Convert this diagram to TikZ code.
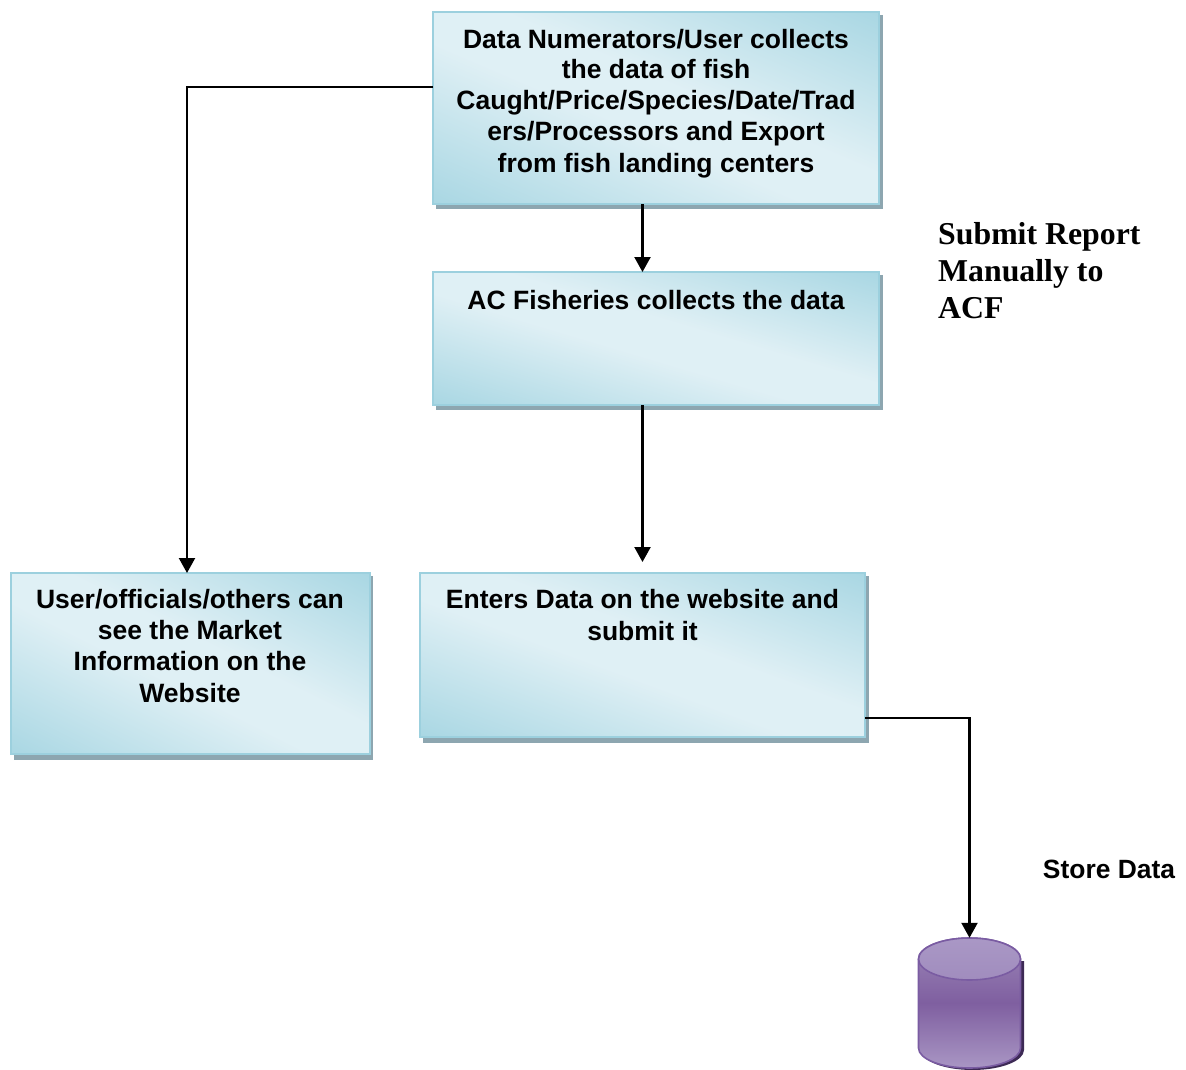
\documentclass[tikz,border=0pt]{standalone}
\usepackage{fontspec}
\setmainfont{Liberation Sans}
\newfontfamily\serifbold{Liberation Serif}
\usetikzlibrary{arrows.meta,calc}
\definecolor{boxedge}{HTML}{9CD0DE}
\definecolor{boxshadow}{HTML}{8DA6B0}
\definecolor{dbedge}{HTML}{7A5CA2}
\definecolor{dbshadow}{HTML}{3D2A55}
\definecolor{dbb}{HTML}{A996C4}
\definecolor{dbm}{HTML}{7F5FA0}
\definecolor{dbt}{HTML}{9C86B8}
\definecolor{dbl}{HTML}{9C87BA}
\definecolor{dbh}{HTML}{AE9DC9}
\pgfdeclarefunctionalshading{boxfill}{\pgfpoint{-50bp}{-50bp}}{\pgfpoint{50bp}{50bp}}{}{
  add abs 100 div
  dup 0.08 lt {pop 0} {0.08 sub 0.6 div dup 1 gt {pop 1} if} ifelse
  dup 1 exch sub
  dup 0.875 mul 2 index 0.57 mul add exch
  dup 0.94 mul 3 index 0.80 mul add exch
  0.96 mul 3 index 0.86 mul add
  4 -1 roll pop
}
\pgfdeclareverticalshading{dbbody}{100bp}{
  color(0bp)=(dbb);
  color(25bp)=(dbb);
  color(50bp)=(dbm);
  color(75bp)=(dbt);
  color(100bp)=(dbt)}
\pgfdeclareverticalshading{dbtop}{100bp}{
  color(0bp)=(dbl);
  color(100bp)=(dbh)}
\tikzset{
  flowbox/.style={shading=boxfill,draw=boxedge,line width=2pt,inner sep=0pt,outer sep=0pt,
    font=\fontsize{26.5}{30.7}\selectfont\bfseries},
  boxback/.style={fill=boxshadow,draw=none},
  conn/.style={draw=black,line width=2.2pt},
  arr/.style={conn,-{Triangle[length=15pt,width=16pt]}}
}
\newcommand{\boxtext}[4]{\parbox[c][#2pt][t]{#1pt}{\centering\vspace*{#3pt}#4\par}}
\begin{document}
\begin{tikzpicture}[x=1pt,y=-1pt]
\useasboundingbox (0,0) rectangle (1186,1070);
% shadows
\fill[boxback] (436,15) rectangle (883,209);
\fill[boxback] (436,275) rectangle (883,410);
\fill[boxback] (14,576) rectangle (373,760);
\fill[boxback] (423,576) rectangle (869,743);
% boxes
\node[flowbox,shade,draw,anchor=center] (b1) at (656,108)
  {\boxtext{446}{192}{17}{Data Numerators/User collects\\the data of fish\\Caught/Price/Species/Date/Trad\\ers/Processors and Export\\[1.5pt]from fish landing centers}};
\node[flowbox,shade,draw,anchor=center] (b2) at (656,338.5)
  {\boxtext{446}{133}{18}{AC Fisheries collects the data}};
\node[flowbox,shade,draw,anchor=center] (b3) at (190,663.5)
  {\fontsize{26.5}{31.3}\selectfont\boxtext{359}{181}{16}{User/officials/others can\\see the Market\\Information on the\\Website}};
\node[flowbox,shade,draw,anchor=center] (b4) at (642.5,655)
  {\fontsize{26.5}{32}\selectfont\boxtext{445}{164}{16}{Enters Data on the website and\\submit it}};
% cylinder
\node[inner sep=0pt,minimum width=103pt,minimum height=130pt] (db) at (969.5,1003) {};
\fill[dbshadow] (921,961) -- (921,1050) arc[start angle=180,end angle=0,x radius=51.5,y radius=20] -- (1024,961) -- cycle;
\shade[shading=dbbody,draw=dbedge,line width=1.6pt]
  (918.5,959) -- (918.5,1048) arc[start angle=180,end angle=0,x radius=51,y radius=20] -- (1020.5,959) arc[start angle=0,end angle=-180,x radius=51,y radius=21] -- cycle;
\shade[shading=dbtop,draw=dbedge,line width=1.6pt] (969.5,959) ellipse[x radius=51,y radius=21];
% connectors
\coordinate (c2) at (b4.north |- 0,562);
\coordinate (c3) at (969.5,718);
\draw[arr] (b4.north |- b1.south) -- (b4.north |- b2.north);
\draw[arr] (b4.north |- b2.south) -- (c2);
\draw[arr] (b1.west |- 0,87) -| (b3.north -| 187,0);
\draw[arr] (b4.east |- c3) -| (db.north);
% labels
\node[anchor=north west,inner sep=0pt,align=left,font=\fontsize{31.8}{37.3}\selectfont\serifbold\bfseries] (t1) at (938,222)
  {Submit Report\\Manually to\\ACF};
\node[inner sep=0pt,font=\fontsize{26.4}{30}\selectfont\bfseries] (t2) at (1109,869) {Store Data};
\end{tikzpicture}
\end{document}
